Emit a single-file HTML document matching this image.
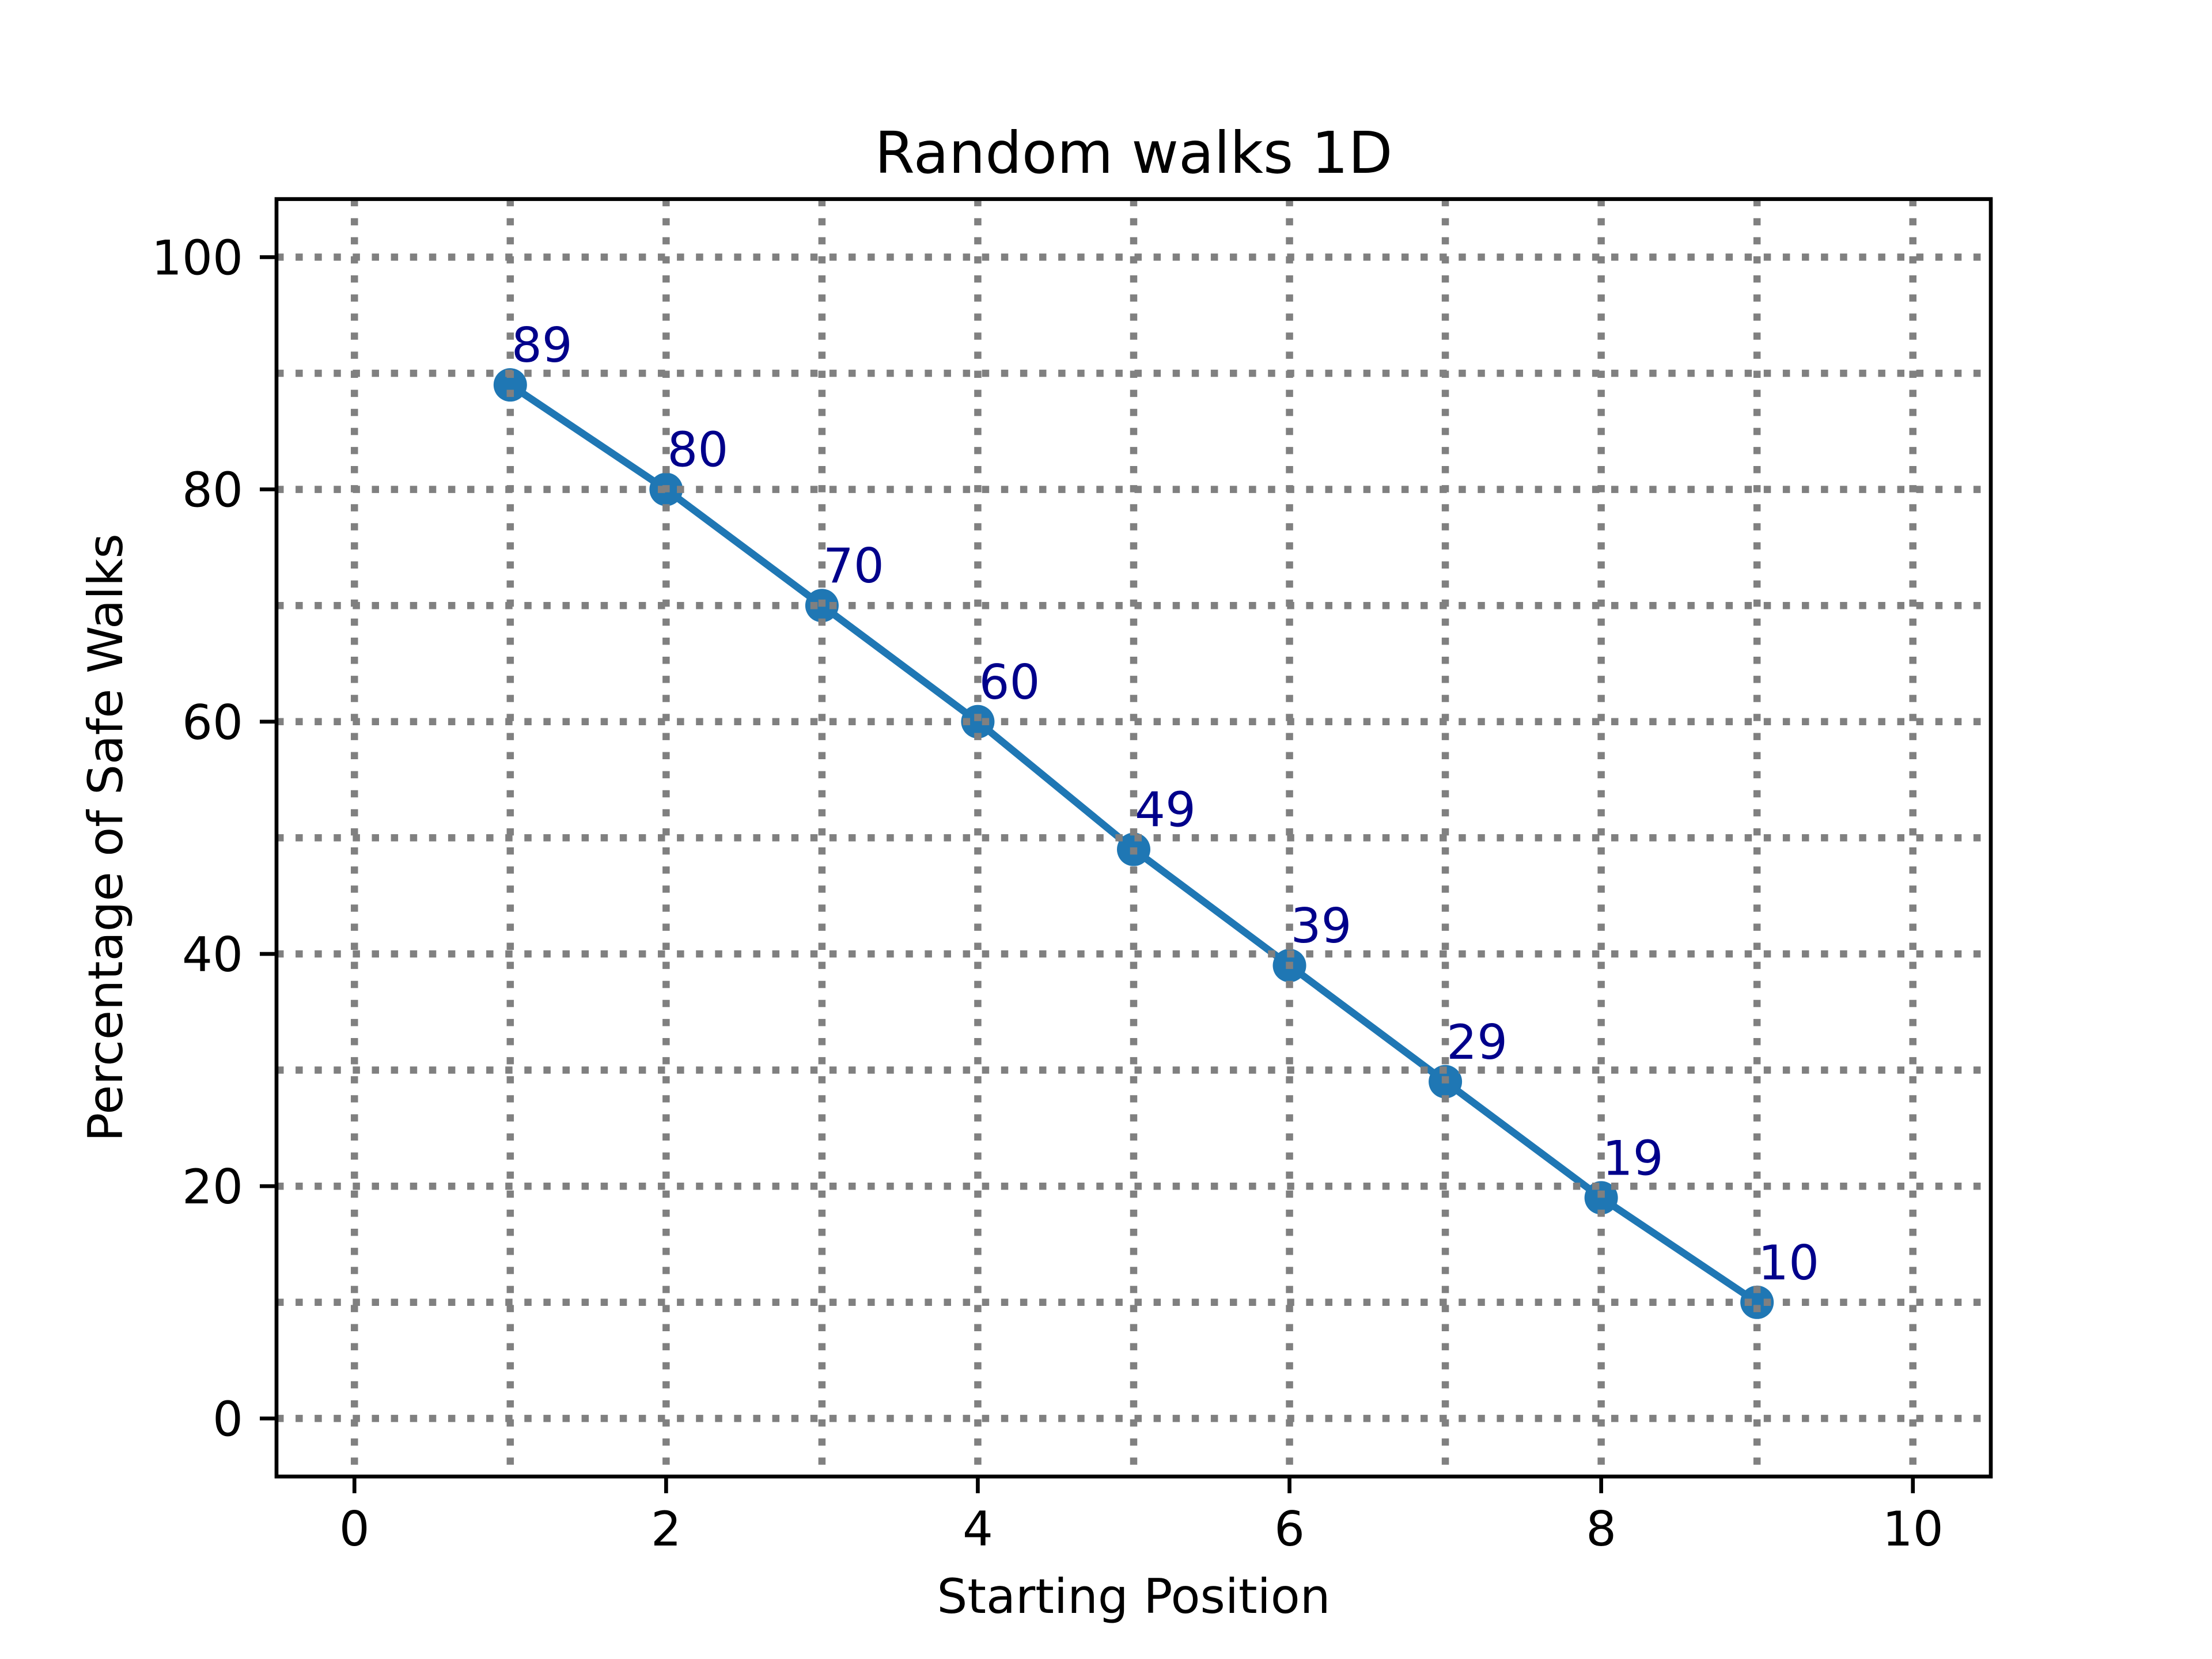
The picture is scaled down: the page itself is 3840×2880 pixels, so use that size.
<!DOCTYPE html>
<html><head><meta charset="utf-8"><style>
html,body{margin:0;padding:0;background:#fff}
svg{display:block;font-family:"DejaVu Sans","Liberation Sans",sans-serif}
</style></head><body>
<svg id="chart" width="3840" height="2880" viewBox="0 0 3840 2880" xmlns="http://www.w3.org/2000/svg">
<rect width="3840" height="2880" fill="#fff"/>
<g id="series"></g>
<g id="grid"></g>
<g id="labels"></g>
<g id="ticks"></g>
<rect x="480" y="345.6" width="2976" height="2217.6" fill="none" stroke="#000" stroke-width="6.67"/>
<text x="1968" y="300" font-size="100" text-anchor="middle">Random walks 1D</text>
<text x="1968" y="2800" font-size="83.3" text-anchor="middle">Starting Position</text>
<text x="0" y="0" font-size="83.3" text-anchor="middle" transform="translate(212,1454) rotate(-90)">Percentage of Safe Walks</text>
</svg>
<script>
const xs=[1,2,3,4,5,6,7,8,9];
const ys=[89,80,70,60,49,39,29,19,10];
const labels=["89","80","70","60","49","39","29","19","10"];
const xTicks=[0,2,4,6,8,10];
const yTicks=[0,20,40,60,80,100];
const xGrid=[0,1,2,3,4,5,6,7,8,9,10];
const yGrid=[0,10,20,30,40,50,60,70,80,90,100];
const L=480,R=3456,T=345.6,B=2563.2;
const X=v=>L+(v+0.5)/11*(R-L);
const Y=v=>B-(v+5)/110*(B-T);
const NS="http://www.w3.org/2000/svg";
function mk(tag,attrs,parent){const e=document.createElementNS(NS,tag);for(const k in attrs)e.setAttribute(k,attrs[k]);parent.appendChild(e);return e;}
const grid=document.getElementById('grid'),ser=document.getElementById('series'),tk=document.getElementById('ticks'),lab=document.getElementById('labels');
xGrid.forEach(v=>{const e=mk('line',{x1:X(v),x2:X(v),y1:T,y2:B,stroke:'#808080','stroke-width':12.5,'stroke-dasharray':'12.5 20.6'},grid);

});
yGrid.forEach(v=>{const e=mk('line',{x1:L,x2:R,y1:Y(v),y2:Y(v),stroke:'#808080','stroke-width':12.5,'stroke-dasharray':'12.5 20.6'},grid);

});
const pl=mk('polyline',{points:xs.map((x,i)=>X(x)+','+Y(ys[i])).join(' '),fill:'none',stroke:'#1f77b4','stroke-width':12.5,'stroke-linejoin':'round','stroke-linecap':'square'},ser);


xs.forEach((x,i)=>{const c=mk('circle',{cx:X(x),cy:Y(ys[i]),r:29,fill:'#1f77b4'},ser);


const t=mk('text',{x:X(x)+2,y:Y(ys[i])-40,'font-size':83.3,fill:'#00008b'},lab);t.textContent=labels[i];

});
xTicks.forEach(v=>{const l=mk('line',{x1:X(v),x2:X(v),y1:B,y2:B+29,stroke:'#000','stroke-width':6.67},tk);


const t=mk('text',{x:X(v),y:B+29+29+62,'font-size':83.3,'text-anchor':'middle'},tk);t.textContent=v;

});
yTicks.forEach(v=>{const l=mk('line',{x1:L-29,x2:L,y1:Y(v),y2:Y(v),stroke:'#000','stroke-width':6.67},tk);


const t=mk('text',{x:L-29-29,y:Y(v)+30,'font-size':83.3,'text-anchor':'end'},tk);t.textContent=v;

});
</script>
</body></html>
